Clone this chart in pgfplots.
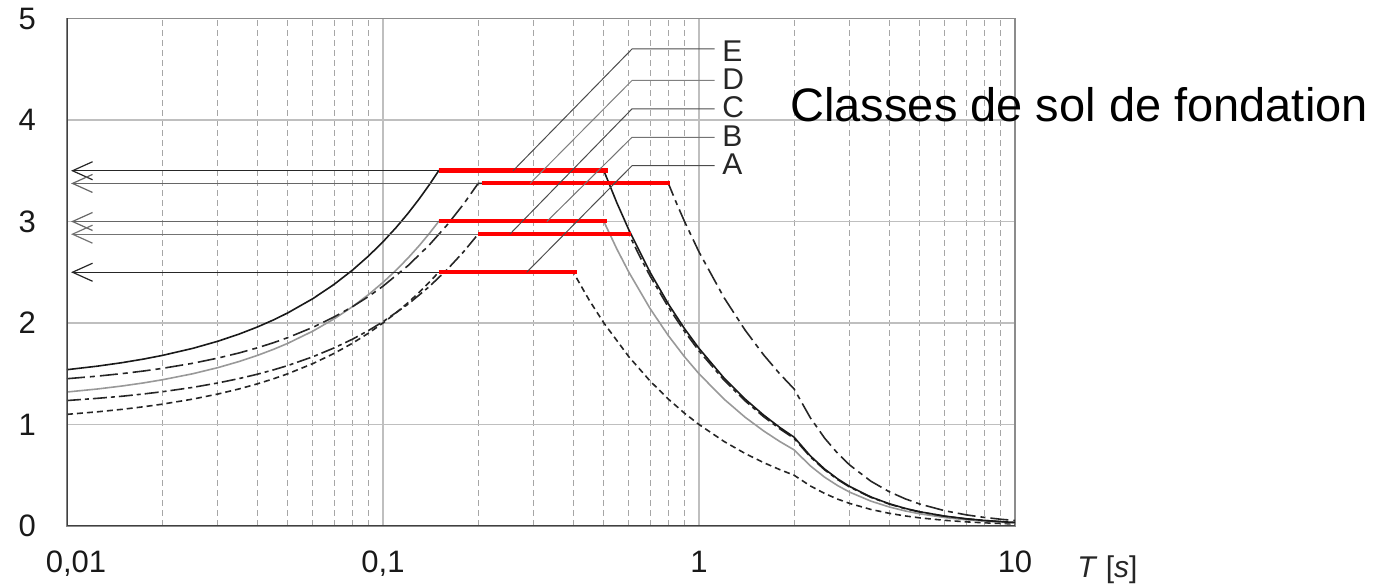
\documentclass[border=0pt]{standalone}
\usepackage{pgfplots}
\pgfplotsset{compat=1.18}
\usepackage{fontspec}
\setmainfont{Liberation Sans}
\usetikzlibrary{arrows.meta}
\begin{document}
\begin{tikzpicture}
\path[use as bounding box] (-33.5pt,-31pt) rectangle (658pt,263pt);
\begin{axis}[
  at={(0,0)}, anchor=south west,
  xmode=log, scale only axis, width=474pt, height=253.75pt,
  xmin=0.01, xmax=10, ymin=0, ymax=5,
  xtick={0.01,0.1,1,10},
  xticklabels={{\hspace*{9pt}0,01},{0,1},1,10},
  minor xtick={0.02,0.03,0.04,0.05,0.06,0.07,0.08,0.09,0.2,0.3,0.4,0.5,0.6,0.7,0.8,0.9,2,3,4,5,6,7,8,9},
  ytick={0,1,2,3,4,5},
  xmajorgrids, ymajorgrids, xminorgrids,
  major grid style={black!25, line width=0.6pt},
  minor x grid style={black!35, dash pattern=on 3pt off 2pt, line width=0.4pt},
  axis line style={black!45, line width=0.8pt},
  tick style={draw=none},
  tick label style={font=\fontsize{15.5}{18}\selectfont, text=black!90},
  /pgf/number format/assume math mode=true,
  yticklabel style={xshift=-12pt},
  xticklabel style={yshift=-9pt},
]
% Soil A (short dashed)
\addplot[black!85, line width=0.8pt, dash pattern=on 3pt off 2pt] coordinates {
(0.01,1.1)(0.0125,1.125)(0.015,1.15)(0.0175,1.175)(0.02,1.2)(0.025,1.25)(0.03,1.3)(0.035,1.35)(0.04,1.4)(0.045,1.45)(0.05,1.5)(0.06,1.6)(0.07,1.7)(0.08,1.8)(0.09,1.9)(0.1,2.0)(0.11,2.1)(0.12,2.2)(0.13,2.3)(0.14,2.4)(0.15,2.5)
(0.4,2.5)(0.45,2.222)(0.5,2.0)(0.6,1.667)(0.7,1.429)(0.8,1.25)(0.9,1.111)(1.0,1.0)(1.2,0.833)(1.4,0.714)(1.6,0.625)(1.8,0.556)(2.0,0.5)
(2.25,0.395)(2.5,0.32)(2.75,0.264)(3,0.222)(3.5,0.163)(4,0.125)(4.5,0.0988)(5,0.08)(6,0.0556)(7,0.0408)(8,0.0313)(9,0.0247)(10,0.02)};
% Soil B (gray solid)
\addplot[black!40, line width=0.8pt] coordinates {
(0.01,1.32)(0.0125,1.35)(0.015,1.38)(0.0175,1.41)(0.02,1.44)(0.025,1.5)(0.03,1.56)(0.035,1.62)(0.04,1.68)(0.045,1.74)(0.05,1.8)(0.06,1.92)(0.07,2.04)(0.08,2.16)(0.09,2.28)(0.1,2.4)(0.11,2.52)(0.12,2.64)(0.13,2.76)(0.14,2.88)(0.15,3.0)
(0.5,3.0)(0.55,2.727)(0.6,2.5)(0.7,2.143)(0.8,1.875)(0.9,1.667)(1.0,1.5)(1.2,1.25)(1.4,1.071)(1.6,0.9375)(1.8,0.833)(2.0,0.75)
(2.25,0.593)(2.5,0.48)(2.75,0.397)(3,0.333)(3.5,0.245)(4,0.1875)(4.5,0.148)(5,0.12)(6,0.0833)(7,0.0612)(8,0.0469)(9,0.037)(10,0.03)};
% Soil C (dash-dot)
\addplot[black!85, line width=0.8pt, dash pattern=on 7pt off 2pt on 2pt off 2pt] coordinates {
(0.01,1.236)(0.0125,1.258)(0.015,1.279)(0.0175,1.301)(0.02,1.3225)(0.025,1.3656)(0.03,1.409)(0.035,1.452)(0.04,1.495)(0.045,1.538)(0.05,1.581)(0.06,1.6675)(0.07,1.754)(0.08,1.84)(0.09,1.926)(0.1,2.0125)(0.12,2.185)(0.14,2.3575)(0.16,2.53)(0.18,2.7025)(0.2,2.875)
(0.6,2.875)(0.65,2.654)(0.7,2.464)(0.8,2.156)(0.9,1.917)(1.0,1.725)(1.2,1.4375)(1.4,1.232)(1.6,1.078)(1.8,0.958)(2.0,0.8625)
(2.25,0.681)(2.5,0.552)(2.75,0.456)(3,0.383)(3.5,0.282)(4,0.216)(4.5,0.170)(5,0.138)(6,0.0958)(7,0.0704)(8,0.0539)(9,0.0426)(10,0.0345)};
% Soil D (long dash - short dash)
\addplot[black!85, line width=0.8pt, dash pattern=on 9pt off 2.5pt on 2.5pt off 2.5pt] coordinates {
(0.01,1.451)(0.0125,1.4766)(0.015,1.502)(0.0175,1.5272)(0.02,1.5525)(0.025,1.6031)(0.03,1.654)(0.035,1.7044)(0.04,1.755)(0.045,1.8056)(0.05,1.856)(0.06,1.9575)(0.07,2.059)(0.08,2.16)(0.09,2.261)(0.1,2.3625)(0.12,2.565)(0.14,2.7675)(0.16,2.97)(0.18,3.1725)(0.2,3.375)
(0.8,3.375)(0.85,3.176)(0.9,3.0)(1.0,2.7)(1.2,2.25)(1.4,1.929)(1.6,1.6875)(1.8,1.5)(2.0,1.35)
(2.25,1.067)(2.5,0.864)(2.75,0.714)(3,0.6)(3.5,0.441)(4,0.3375)(4.5,0.267)(5,0.216)(6,0.15)(7,0.11)(8,0.0844)(9,0.0667)(10,0.054)};
% Soil E (solid black)
\addplot[black!90, line width=0.8pt] coordinates {
(0.01,1.54)(0.0125,1.575)(0.015,1.61)(0.0175,1.645)(0.02,1.68)(0.025,1.75)(0.03,1.82)(0.035,1.89)(0.04,1.96)(0.045,2.03)(0.05,2.1)(0.06,2.24)(0.07,2.38)(0.08,2.52)(0.09,2.66)(0.1,2.8)(0.11,2.94)(0.12,3.08)(0.13,3.22)(0.14,3.36)(0.15,3.5)
(0.5,3.5)(0.55,3.182)(0.6,2.917)(0.7,2.5)(0.8,2.1875)(0.9,1.944)(1.0,1.75)(1.2,1.458)(1.4,1.25)(1.6,1.094)(1.8,0.972)(2.0,0.875)
(2.25,0.691)(2.5,0.56)(2.75,0.463)(3,0.389)(3.5,0.286)(4,0.219)(4.5,0.173)(5,0.14)(6,0.0972)(7,0.0714)(8,0.0547)(9,0.0432)(10,0.035)};
% arrows to the y axis
\addplot[black!85, line width=0.6pt, arrows={Straight Barb[length=10pt,width=9pt]-}] coordinates {(0.0103,3.5)(0.15,3.5)};
\addplot[black!60, line width=0.6pt, arrows={Straight Barb[length=10pt,width=9pt]-}] coordinates {(0.0103,3.375)(0.2,3.375)};
\addplot[black!60, line width=0.6pt, arrows={Straight Barb[length=10pt,width=9pt]-}] coordinates {(0.0103,3.0)(0.15,3.0)};
\addplot[black!55, line width=0.6pt, arrows={Straight Barb[length=10pt,width=9pt]-}] coordinates {(0.0103,2.875)(0.2,2.875)};
\addplot[black!85, line width=0.6pt, arrows={Straight Barb[length=10pt,width=9pt]-}] coordinates {(0.0103,2.5)(0.15,2.5)};
% red plateau bars
\addplot[red, line width=2.6pt] coordinates {(0.15,3.5)(0.515,3.5)};
\addplot[red, line width=2pt] coordinates {(0.205,3.375)(0.81,3.375)};
\addplot[red, line width=2pt] coordinates {(0.15,3.0)(0.51,3.0)};
\addplot[red, line width=2.2pt] coordinates {(0.2,2.875)(0.61,2.875)};
\addplot[red, line width=2.2pt] coordinates {(0.15,2.5)(0.41,2.5)};
% leader lines
\addplot[black!70, line width=0.5pt] coordinates {(0.258,3.5)(0.614,4.70)(1.12,4.70)};
\addplot[black!50, line width=0.5pt] coordinates {(0.292,3.375)(0.614,4.39)(1.12,4.39)};
\addplot[black!70, line width=0.5pt] coordinates {(0.252,2.875)(0.614,4.11)(1.12,4.11)};
\addplot[black!55, line width=0.5pt] coordinates {(0.330,3.0)(0.614,3.83)(1.12,3.83)};
\addplot[black!70, line width=0.5pt] coordinates {(0.285,2.5)(0.614,3.55)(1.12,3.55)};
\draw[black!75, line width=1pt] (rel axis cs:0,1) -- (rel axis cs:0,0) -- (rel axis cs:1,0);
\end{axis}
\begin{scope}[every node/.style={anchor=base west, inner sep=0pt, text=black!85, font=\fontsize{15}{18}\selectfont}]
\node at (327.5pt,232pt) {E};
\node at (327.5pt,218pt) {D};
\node at (327.5pt,204pt) {C};
\node at (327.5pt,189.5pt) {B};
\node at (327.5pt,175.5pt) {A};
\node at (505pt,-26pt) {\textit{T} [\textit{s}]};
\end{scope}
\node[anchor=base west, inner sep=0pt, font=\fontsize{23.5}{28}\selectfont] at (361.5pt,202pt) {Classes de sol de fondation};
\end{tikzpicture}
\end{document}
